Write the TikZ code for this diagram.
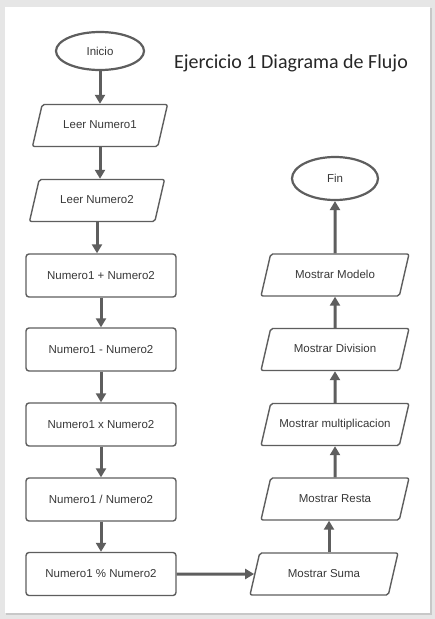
\documentclass[tikz,border=0pt]{standalone}
\usepackage{fontspec}
\setmainfont{Liberation Sans}
\newfontfamily\titlefont{Carlito}
\usetikzlibrary{shapes.geometric,arrows.meta}
\definecolor{linea}{HTML}{5E5E5E}
\definecolor{texto}{HTML}{383838}
\definecolor{fondo}{HTML}{E6E6E6}
\definecolor{sombra}{HTML}{C8C8C8}

\begin{document}
\begin{tikzpicture}[x=1pt,y=-1pt,
  every node/.style={font=\fontsize{11.5}{13}\selectfont,text=texto},
  inicfin/.style={draw=linea,line width=2.2pt,ellipse,inner sep=0pt},
  proceso/.style={draw=linea,line width=1.4pt,rounded corners=3pt,minimum width=150pt,minimum height=43pt},
  datos/.style={draw=linea,line width=1.4pt,trapezium,trapezium left angle=77,trapezium right angle=103,
    trapezium stretches body,rounded corners=2pt,inner xsep=0pt,inner ysep=0pt,
    text height=8.5pt,text depth=2.5pt,outer ysep=0pt,minimum height=42pt},
  flecha/.style={draw=linea,line width=3pt,-{Triangle[length=9pt,width=10pt]}}]
\useasboundingbox (0,0) rectangle (435,619);
\fill[fondo] (0,0) rectangle (435,619);
\fill[sombra] (6,8) rectangle (432,615) ; % sombra de la hoja
\fill[white] (5,7) rectangle (430,613);

\node[font=\titlefont\fontsize{20}{24}\selectfont,text=black!85] (titulo) at (291,63) {Ejercicio 1 Diagrama de Flujo};

% columna izquierda
\node[inicfin,minimum width=88pt,minimum height=38pt] (inicio) at (100,51) {Inicio};
\node[datos,minimum width=135pt,inner ysep=15.5pt] (leer1) at (100,125.5) {Leer Numero1};
\node[datos,minimum width=135pt,inner ysep=15.5pt] (leer2) at (97,200.5) {Leer Numero2};
\node[proceso] (suma) at (101,275.5) {Numero1 + Numero2};
\node[proceso] (resta) at (101,349.5) {Numero1 - Numero2};
\node[proceso] (mult) at (101,424.5) {Numero1 x Numero2};
\node[proceso] (divi) at (101,499.5) {Numero1 / Numero2};
\node[proceso] (modulo) at (101,574) {Numero1 \% Numero2};

% columna derecha
\node[datos,minimum width=148pt,inner ysep=15.5pt] (msuma) at (324,574) {Mostrar Suma};
\node[datos,minimum width=148pt,inner ysep=15.5pt] (mresta) at (335,499) {Mostrar Resta};
\node[datos,minimum width=148pt,inner ysep=15.5pt] (mmult) at (335,424.5) {Mostrar multiplicacion};
\node[datos,minimum width=148pt,inner ysep=15.5pt] (mdivi) at (335,349.5) {Mostrar Division};
\node[datos,minimum width=148pt,inner ysep=15.5pt] (mmodelo) at (335,275) {Mostrar Modelo};
\node[inicfin,minimum width=86pt,minimum height=43pt] (fin) at (335,178.5) {Fin};

\draw[flecha] (inicio.south) -- (inicio.south |- leer1.north);
\draw[flecha] (leer1.south) -- (leer1.south |- leer2.north);
\draw[flecha] (leer2.south) -- (leer2.south |- suma.north);
\draw[flecha] (suma) -- (resta);
\draw[flecha] (resta) -- (mult);
\draw[flecha] (mult) -- (divi);
\draw[flecha] (divi) -- (modulo);
\draw[flecha] (modulo) -- (msuma);
\draw[flecha] (msuma.top side) -- (msuma.top side |- mresta.south);
\draw[flecha] (mresta) -- (mmult);
\draw[flecha] (mmult) -- (mdivi);
\draw[flecha] (mdivi) -- (mmodelo);
\draw[flecha] (mmodelo) -- (fin);

\end{tikzpicture}
\end{document}
